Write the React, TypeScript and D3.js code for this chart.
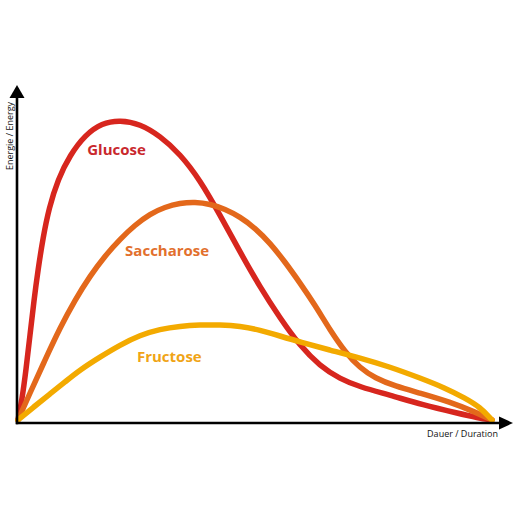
import React from 'react';
import * as d3 from 'd3';

// time (0..100) / energy (0..100)
const glucoseT = [0, 0.84, 1.69, 2.53, 3.38, 4.22, 5.27, 6.54, 8.44, 10.97, 14.14, 17.72, 21.52, 25.74, 29.96, 34.18, 38.4, 42.62, 46.84, 51.05, 55.27, 59.49, 63.71, 67.93, 72.15, 78.48, 85.44, 92.62, 97.05, 100];
const glucoseE = [0, 6.7, 16.7, 28.3, 40, 50, 60.7, 70.7, 80.3, 88.3, 95, 99, 100, 98.7, 94.7, 88.7, 80, 68.3, 56, 44.3, 34, 24.7, 18, 13.7, 11, 8.3, 5, 2.3, 0.7, 0];

const saccharoseT = [0, 2.53, 5.7, 8.86, 12.03, 15.19, 18.35, 21.52, 24.68, 27.85, 31.01, 34.18, 37.34, 40.51, 43.67, 46.84, 50, 53.16, 56.33, 59.49, 62.66, 65.82, 68.99, 72.15, 75.32, 79.54, 84.81, 91.14, 96.41, 100];
const saccharoseE = [0, 9, 20, 30.7, 40, 48, 54.7, 60.3, 65, 68.7, 71, 72.3, 72.7, 72, 70.3, 67.7, 64, 59, 52.7, 45.7, 38.3, 30, 22.7, 17.3, 14, 11.3, 9, 6, 2.7, 0];

const fructoseT = [0, 3.59, 6.75, 9.92, 13.08, 17.3, 21.52, 25.74, 29.96, 34.18, 38.4, 42.62, 46.84, 51.05, 55.27, 59.49, 65.82, 72.15, 78.48, 84.81, 90.08, 94.3, 97.47, 100];
const fructoseE = [0, 4.7, 8.7, 12.7, 16.7, 21, 25, 28.3, 30.3, 31.3, 31.7, 31.7, 31.3, 30, 28, 26, 23.3, 20.7, 17.7, 14, 10.7, 7.3, 4.3, 0];

const seriesNames = ['Glucose', 'Saccharose', 'Fructose'];
const labelT = [14.6, 22.6, 25.1];
const labelE = [88.3, 54.7, 19.3];

const lineColors = ['#d7261e', '#e3681b', '#f3aa00'];
const textColors = ['#c9282d', '#e2702d', '#f0a416'];

const App = () => {
  const width = 520;
  const height = 520;

  const x = d3.scaleLinear().domain([0, 100]).range([18, 492]);
  const y = d3.scaleLinear().domain([0, 100]).range([420, 120]);

  // basis smooths out the small reading errors in the points
  const line = d3.line<[number, number]>()
    .x(d => x(d[0]))
    .y(d => y(d[1]))
    .curve(d3.curveBasis);

  const series = [
    d3.zip(glucoseT, glucoseE),
    d3.zip(saccharoseT, saccharoseE),
    d3.zip(fructoseT, fructoseE),
  ] as [number, number][][];

  // axes
  const axisX = 17;
  const axisY = 423;
  const yTop = 85;
  const xEnd = 513;

  return (
    <svg width={width} height={height}
      style={{ position: 'absolute', left: 0, top: 0, display: 'block', background: '#fff' }}>
      {/* curves */}
      {series.map((s, i) => (
        <path key={seriesNames[i]} d={line(s) || ''} fill="none"
          stroke={lineColors[i]} strokeWidth={5.5}
          strokeLinecap="round" strokeLinejoin="round" />
      ))}

      {/* axes */}
      <line x1={axisX} y1={axisY + 1.2} x2={axisX} y2={yTop + 12} stroke="#000" strokeWidth={2.6} />
      <polygon points={`${axisX},${yTop} ${axisX - 7.5},${yTop + 13} ${axisX + 7.5},${yTop + 13}`} fill="#000" />
      <line x1={axisX - 1.2} y1={axisY} x2={xEnd - 13} y2={axisY} stroke="#000" strokeWidth={2.6} />
      <polygon points={`${xEnd},${axisY} ${xEnd - 14},${axisY - 6.5} ${xEnd - 14},${axisY + 6.5}`} fill="#000" />

      {/* series labels */}
      {seriesNames.map((n, i) => (
        <text key={n} x={x(labelT[i])} y={y(labelE[i])}
          fill={textColors[i]} fontFamily="'Open Sans', sans-serif"
          fontWeight={700} fontSize={15}>{n}</text>
      ))}

      {/* axis titles */}
      <text transform={`translate(13,136) rotate(-90)`} textAnchor="middle"
        fontFamily="'Open Sans', sans-serif" fontSize={9} fill="#111">Energie / Energy</text>
      <text x={498} y={437} textAnchor="end"
        fontFamily="'Open Sans', sans-serif" fontSize={9} fill="#111">Dauer / Duration</text>
    </svg>
  );
};

export default App;
